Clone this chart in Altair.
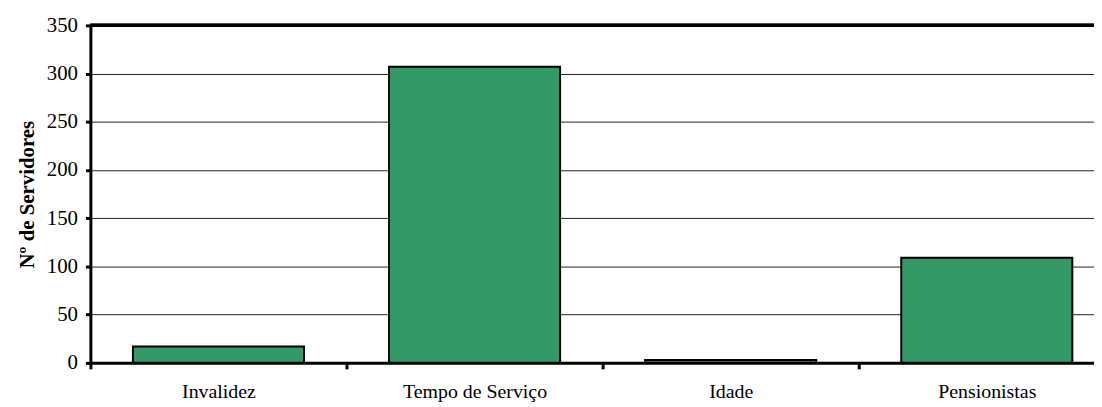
import altair as alt
import pandas as pd

categories = ["Invalidez", "Tempo de Serviço", "Idade", "Pensionistas"]
values = [17, 307, 3, 109]
y_ticks = [0, 50, 100, 150, 200, 250, 300, 350]

df = pd.DataFrame({"cat": categories, "val": values})

FONT = "Liberation Serif"

x_enc = alt.X(
    "cat:N",
    sort=categories,
    title=None,
    scale=alt.Scale(range=[0, 1032], paddingInner=0, paddingOuter=0),
    axis=alt.Axis(
        labelAngle=0,
        labelPadding=13,
        labelFontSize=20,
        tickSize=6,
        tickBand="extent",
        grid=False,
    ),
)

y_enc = alt.Y(
    "val:Q",
    title="Nº de Servidores",
    scale=alt.Scale(domain=[0, 350], nice=False),
    axis=alt.Axis(
        values=y_ticks,
        labelPadding=8,
        titleFontWeight="bold",
        titlePadding=9,
        tickSize=5,
        grid=True,
        gridColor="#222222",
        gridWidth=1,
    ),
)

bars = alt.Chart(df).mark_bar(
    color="#339966", stroke="black", strokeWidth=2,
    width=alt.RelativeBandSize(0.668),
).encode(x=x_enc, y=y_enc)

top = alt.Chart(df).mark_rule(color="black", strokeWidth=3).encode(
    y=alt.datum(350)
)

chart = alt.layer(bars, top).properties(
    width=1011,
    height=340,
    autosize=alt.AutoSizeParams(type="none"),
    padding={"left": 83, "top": 16, "right": 0, "bottom": 43},
).configure_view(stroke=None).configure(background="white").configure_axis(
    labelFont=FONT,
    labelFontSize=21,
    labelColor="black",
    titleFont=FONT,
    titleFontSize=21,
    titleColor="black",
    domainColor="black",
    domainWidth=3,
    tickColor="black",
    tickWidth=3,
)

chart.save("out.html", embed_options={"renderer": "svg", "actions": False})
